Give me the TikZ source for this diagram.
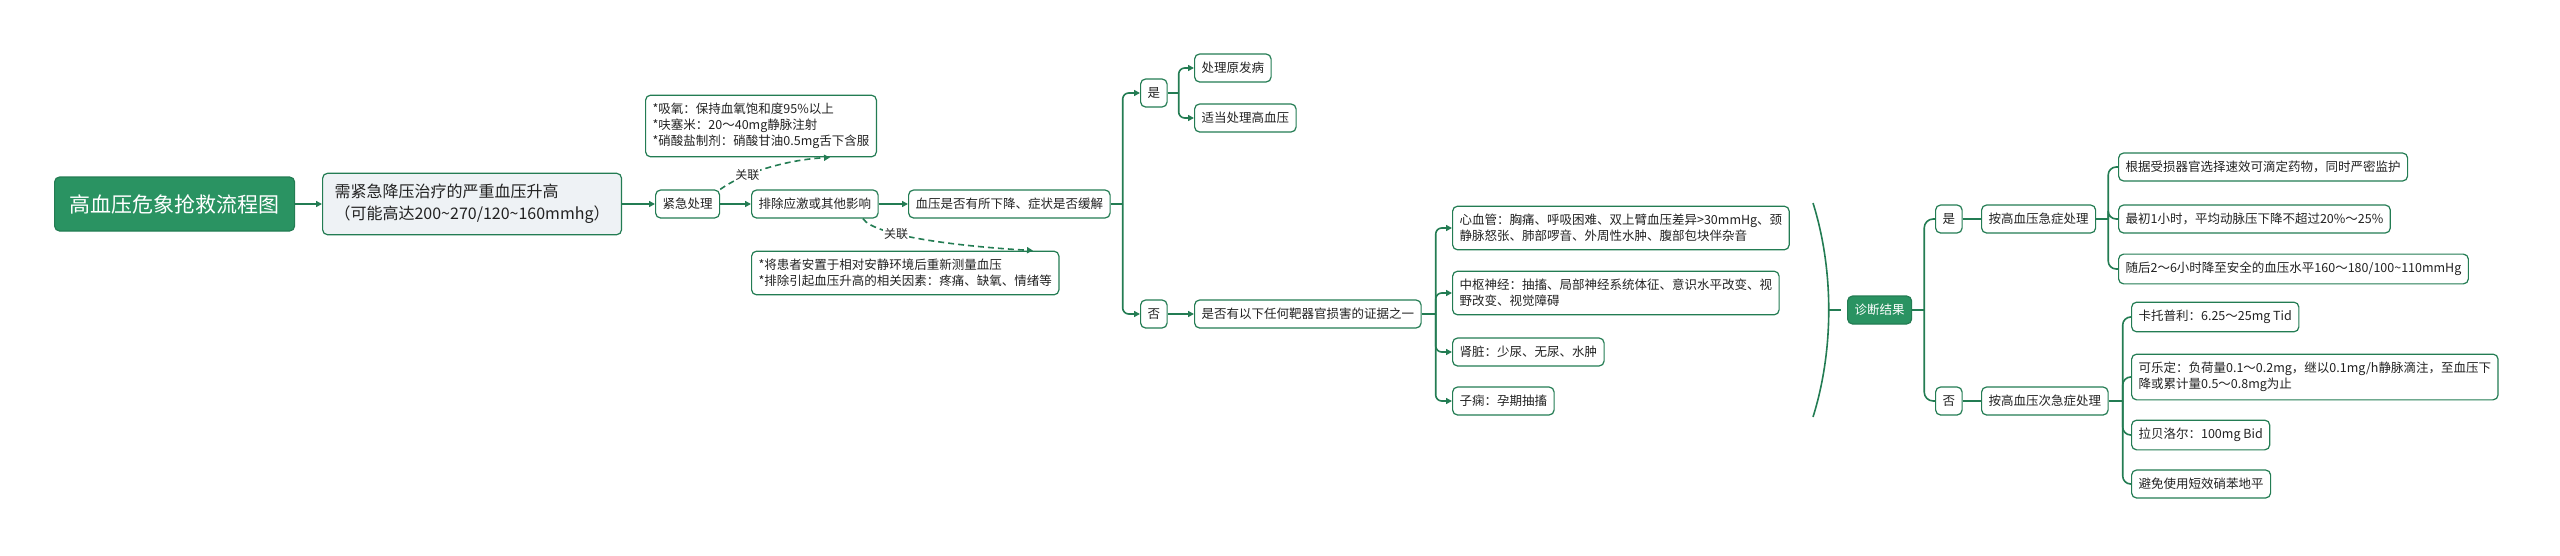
\documentclass[tikz,border=0pt]{standalone}
\usepackage{fontspec}
\newfontfamily\cjk{Noto Sans CJK SC}
\usetikzlibrary{arrows.meta}
\definecolor{lineg}{HTML}{237C53}
\definecolor{rootg}{HTML}{2A9362}
\definecolor{pale}{HTML}{EEF2F5}
\definecolor{ink}{HTML}{222222}
\tikzset{
  box/.style={draw=lineg, line width=1.2pt, rounded corners=5pt, fill=white, text=ink,
    inner xsep=7pt, inner ysep=8pt, minimum height=28pt, align=left, anchor=west,
    font=\cjk\fontsize{12.5}{16}\selectfont},
  greenbox/.style={box, fill=rootg, text=white},
  link/.style={draw=lineg, line width=1.6pt, -{Triangle[length=6pt,width=6pt]}},
  assoc/.style={link, dash pattern=on 6pt off 4pt},
  branch/.style={draw=lineg, line width=1.6pt},
  tag/.style={fill=white, inner sep=1pt, text=ink, font=\cjk\fontsize{12}{14}\selectfont}
}
\begin{document}
\begin{tikzpicture}[x=1pt,y=-1pt]
  \useasboundingbox (0,0) rectangle (2560,555);

  \node[greenbox, font=\cjk\fontsize{21}{26}\selectfont, minimum height=54pt, inner xsep=15pt] (root) at (54,204) {高血压危象抢救流程图};
  \node[box, fill=pale, font=\cjk\fontsize{16}{22}\selectfont, inner xsep=12pt, inner ysep=11pt] (need) at (322,204) {需紧急降压治疗的严重血压升高\\（可能高达200\textasciitilde270/120\textasciitilde160mmhg）};
  \node[box] (urgent) at (655,204) {紧急处理};
  \node[box] (stress) at (751,204) {排除应激或其他影响};
  \node[box] (drop) at (908,204) {血压是否有所下降、症状是否缓解};
  \node[box] (drugs) at (645,126) {*吸氧：保持血氧饱和度95\%以上\\*呋塞米：20～40mg静脉注射\\*硝酸盐制剂：硝酸甘油0.5mg舌下含服};
  \node[box] (calm) at (751,273) {*将患者安置于相对安静环境后重新测量血压\\*排除引起血压升高的相关因素：疼痛、缺氧、情绪等};

  \draw[link] (root.east) -- (need.west);
  \draw[link] (need.east) -- (urgent.west);
  \draw[link] (urgent.east) -- (stress.west);
  \draw[link] (stress.east) -- (drop.west);
  \draw[assoc] (urgent.north east) .. controls +(25,-18) and +(-40,2) .. ([xshift=185pt]drugs.south west) node[tag, pos=0.3] {关联};
  \draw[assoc] ([xshift=48pt]stress.south) .. controls +(12,18) and +(-70,-4) .. ([xshift=282pt]calm.north west) node[tag, pos=0.33] {关联};

  \node[box] (yes1) at (1140,93) {是};
  \node[box] (no1) at (1140,314) {否};
  \node[box] (primary) at (1194,68) {处理原发病};
  \node[box] (treat) at (1194,118) {适当处理高血压};
  \node[box] (organ) at (1194,314) {是否有以下任何靶器官损害的证据之一};

  \coordinate (j1) at ([xshift=12pt]drop.east);
  \draw[branch] (drop.east) -- (j1);
  \draw[link, rounded corners=6pt] (j1) |- (yes1.west);
  \draw[link, rounded corners=6pt] (j1) |- (no1.west);
  \coordinate (j2) at ([xshift=11pt]yes1.east);
  \draw[branch] (yes1.east) -- (j2);
  \draw[link, rounded corners=6pt] (j2) |- (primary.west);
  \draw[link, rounded corners=6pt] (j2) |- (treat.west);
  \draw[link] (no1.east) -- (organ.west);

  \node[box] (heart) at (1452,228) {心血管：胸痛、呼吸困难、双上臂血压差异>30mmHg、颈\\静脉怒张、肺部啰音、外周性水肿、腹部包块伴杂音};
  \node[box] (brain) at (1452,293) {中枢神经：抽搐、局部神经系统体征、意识水平改变、视\\野改变、视觉障碍};
  \node[box] (kidney) at (1452,352) {肾脏：少尿、无尿、水肿};
  \node[box] (eclam) at (1452,401) {子痫：孕期抽搐};

  \coordinate (j3) at ([xshift=14pt]organ.east);
  \draw[branch] (organ.east) -- (j3);
  \foreach \n in {heart,brain,kidney,eclam}
    \draw[link, rounded corners=6pt] (j3) |- (\n.west);

  \draw[branch] (1813,203) .. controls (1834,270) and (1834,350) .. (1813,417);
  \coordinate (bmid) at (1829,310);
  \node[greenbox] (diag) at (1847,310) {诊断结果};
  \draw[branch, shorten >=6pt] (bmid) -- (diag.west);

  \node[box] (yes2) at (1935,219) {是};
  \node[box] (no2) at (1935,401) {否};
  \node[box] (acute) at (1981,219) {按高血压急症处理};
  \node[box] (sub) at (1981,401) {按高血压次急症处理};

  \coordinate (j4) at ([xshift=12pt]diag.east);
  \draw[branch] (diag.east) -- (j4);
  \draw[branch, rounded corners=9pt] (j4) |- (yes2.west);
  \draw[branch, rounded corners=9pt] (j4) |- (no2.west);
  \draw[branch] (yes2.east) -- (acute.west);
  \draw[branch] (no2.east) -- (sub.west);

  \node[box] (a1) at (2118,167) {根据受损器官选择速效可滴定药物，同时严密监护};
  \node[box] (a2) at (2118,219) {最初1小时，平均动脉压下降不超过20\%～25\%};
  \node[box] (a3) at (2118,269) {随后2～6小时降至安全的血压水平160～180/100\textasciitilde110mmHg};

  \coordinate (j5) at ([xshift=12pt]acute.east);
  \draw[branch] (acute.east) -- (j5);
  \foreach \n in {a1,a2,a3}
    \draw[branch, rounded corners=8pt] (j5) |- (\n.west);

  \node[box] (s1) at (2131,317) {卡托普利：6.25～25mg Tid};
  \node[box] (s2) at (2131,377) {可乐定：负荷量0.1～0.2mg，继以0.1mg/h静脉滴注，至血压下\\降或累计量0.5～0.8mg为止};
  \node[box] (s3) at (2131,435) {拉贝洛尔：100mg Bid};
  \node[box] (s4) at (2131,484) {避免使用短效硝苯地平};

  \coordinate (j6) at ([xshift=14pt]sub.east);
  \draw[branch] (sub.east) -- (j6);
  \foreach \n in {s1,s2,s3,s4}
    \draw[branch, rounded corners=8pt] (j6) |- (\n.west);
\end{tikzpicture}
\end{document}
